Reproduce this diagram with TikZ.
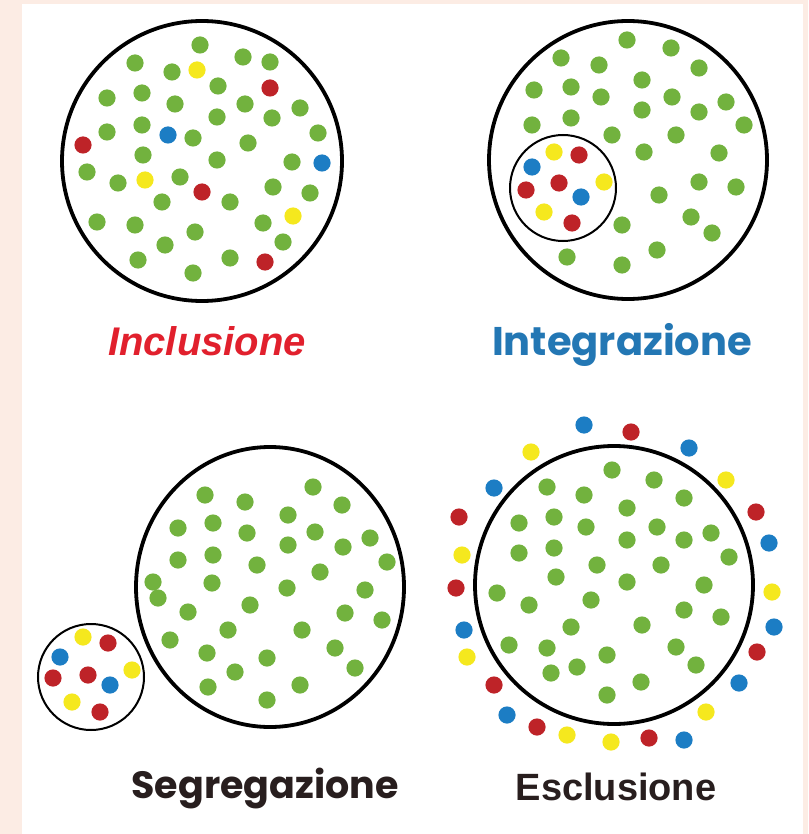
\documentclass[tikz,border=0pt]{standalone}
\usepackage{fontspec}
\newfontfamily\roundfont{Poppins}
\newfontfamily\grotfont{Liberation Sans}
\usetikzlibrary{positioning}
\definecolor{dotgreen}{RGB}{114,178,62}
\definecolor{dotblue}{RGB}{28,125,196}
\definecolor{dotred}{RGB}{190,35,40}
\definecolor{dotyellow}{RGB}{245,232,30}
\definecolor{inclred}{RGB}{225,32,45}
\definecolor{integblue}{RGB}{35,119,180}
\definecolor{darktext}{RGB}{40,30,30}
\definecolor{framepink}{RGB}{252,236,228}

\begin{document}
\begin{tikzpicture}[x=1pt,y=-1pt,
    ring/.style={draw=black, line width=3.8pt},
    smallring/.style={draw=black, line width=2pt},
    title/.style={anchor=base, font=\bfseries\fontsize{40}{48}\selectfont}]
    % Frame
    \useasboundingbox (0,0) rectangle (808,834);
    \fill[framepink] (0,0) rectangle (808,834);
    \fill[white] (22,4) rectangle (803,834);
    % Inclusione
    \draw[ring] (202,161) circle (140pt);
    \foreach \p in {(200,45),(243,57),(270,62),(135,63),(172,72),(218,86),(107,98),(142,93),(175,104),(245,104),(300,108),(217,117),(272,118),(142,125),(107,132),(193,138),(318,133),(248,143),(143,155),(217,160),(292,162),(87,172),(118,183),(180,177),(162,202),(230,202),(273,187),(310,193),(97,222),(135,225),(195,232),(263,223),(283,242),(165,245),(138,260),(230,258),(193,273)}
      \fill[dotgreen] \p circle (8.6pt);
    \foreach \p in {(197,70),(145,180),(293,216)} \fill[dotyellow] \p circle (8.6pt);
    \foreach \p in {(270,88),(83,145),(202,192),(265,262)} \fill[dotred] \p circle (8.6pt);
    \foreach \p in {(168,135),(322,163)} \fill[dotblue] \p circle (8.6pt);
    \node[title, inclred, font=\grotfont\bfseries\itshape\fontsize{40}{48}\selectfont] (inclusione) at (207,355) {Inclusione};
    % Integrazione
    \draw[ring] (628,160) circle (139pt);
    \draw[smallring] (563,188) circle (53pt);
    \foreach \p in {(627,40),(671,48),(561,58),(599,65),(699,68),(642,80),(534,90),(571,87),(601,97),(672,97),(726,102),(642,110),(699,112),(571,118),(532,125),(744,125),(612,135),(676,135),(644,152),(719,153),(699,182),(736,187),(659,195),(691,217),(622,225),(712,233),(657,250),(567,257),(622,265)}
      \fill[dotgreen] \p circle (8.6pt);
    \foreach \p in {(554,152),(604,182),(544,212)} \fill[dotyellow] \p circle (8.6pt);
    \foreach \p in {(579,155),(526,190),(559,183),(572,223)} \fill[dotred] \p circle (8.6pt);
    \foreach \p in {(532,167),(581,197)} \fill[dotblue] \p circle (8.6pt);
    \node[title, integblue, font=\roundfont\bfseries\fontsize{40}{48}\selectfont] (integrazione) at (622,355) {Integrazione};
    % Segregazione
    \draw[ring] (270,587) ellipse (134pt and 140pt);
    \draw[smallring] (91,677) circle (53pt);
    \foreach \p in {(313,487),(205,495),(245,502),(342,505),(288,515),(178,528),(213,523),(247,533),(315,532),(370,538),(288,545),(343,547),(178,560),(213,555),(387,562),(257,565),(320,572),(153,582),(212,583),(287,588),(365,590),(158,598),(188,612),(250,605),(345,613),(382,620),(228,630),(302,630),(170,640),(335,648),(207,653),(267,658),(355,668),(235,672),(208,687),(300,685),(267,700)}
      \fill[dotgreen] \p circle (8.6pt);
    \foreach \p in {(83,637),(132,670),(72,702)} \fill[dotyellow] \p circle (8.6pt);
    \foreach \p in {(108,643),(53,678),(88,675),(100,712)} \fill[dotred] \p circle (8.6pt);
    \foreach \p in {(60,657),(110,685)} \fill[dotblue] \p circle (8.6pt);
    \node[title, darktext, font=\roundfont\bfseries\fontsize{38}{46}\selectfont] (segregazione) at (265,798) {Segregazione};
    % Esclusione
    \draw[ring] (614,585) circle (139pt);
    \foreach \p in {(612,470),(654,480),(547,487),(584,495),(684,498),(627,508),(519,523),(554,517),(586,527),(657,527),(711,533),(627,540),(684,540),(519,553),(554,548),(729,557),(597,565),(661,565),(556,577),(627,582),(704,585),(497,593),(591,600),(529,605),(684,610),(721,617),(571,627),(642,625),(509,645),(547,648),(607,655),(676,647),(577,667),(696,665),(551,673),(641,682),(607,695)}
      \fill[dotgreen] \p circle (8.6pt);
    \foreach \p in {(531,452),(726,480),(462,555),(772,592),(467,657),(706,712),(567,735),(611,742)} \fill[dotyellow] \p circle (8.6pt);
    \foreach \p in {(631,432),(459,517),(756,512),(456,588),(757,652),(494,685),(537,727),(649,738)} \fill[dotred] \p circle (8.6pt);
    \foreach \p in {(584,425),(689,448),(494,488),(769,543),(464,630),(774,627),(739,683),(507,715),(684,740)} \fill[dotblue] \p circle (8.6pt);
    \node[title, darktext, font=\grotfont\bfseries\fontsize{38}{46}\selectfont] (esclusione) at (616,800) {Esclusione};
\end{tikzpicture}
\end{document}
